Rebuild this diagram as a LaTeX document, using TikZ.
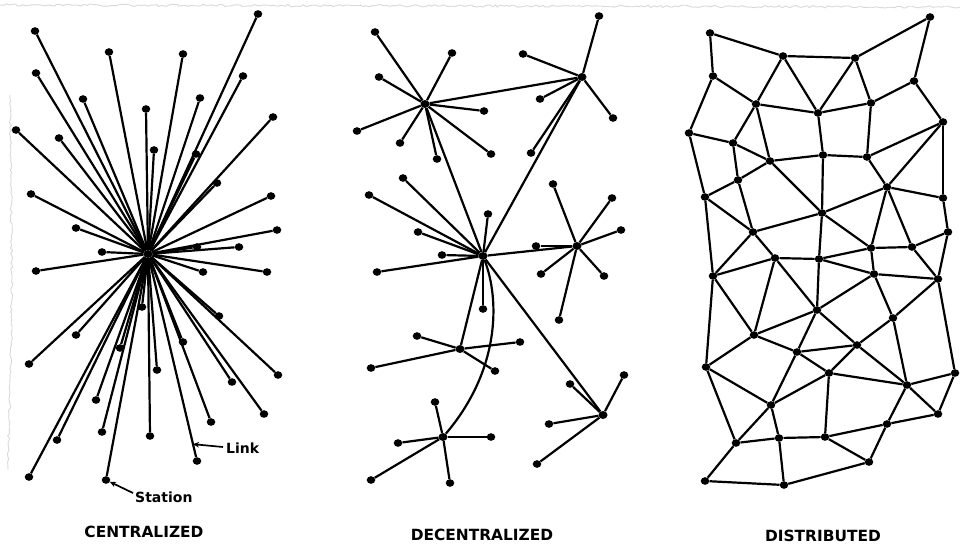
\documentclass[tikz,border=0pt]{standalone}
\usepackage{fontspec}
\newfontfamily\lblfont{DejaVu Sans}
\usetikzlibrary{arrows.meta,decorations.pathmorphing,shapes.geometric}
\begin{document}
\begin{tikzpicture}[x=1pt,y=-1pt,
  dot/.style={ellipse,fill=black,inner sep=0pt,minimum width=8.6pt,minimum height=7.6pt},
  hubdot/.style={ellipse,fill=black,inner sep=0pt,minimum width=9pt,minimum height=8pt},
  link/.style={line width=2.2pt,black},
  ttl/.style={font=\lblfont\bfseries\fontsize{15.4}{16}\selectfont,inner sep=0pt},
  lbl/.style={font=\lblfont\bfseries\fontsize{14}{15}\selectfont,anchor=west,inner sep=0pt},
  pointer/.style={line width=1.7pt,-{Stealth[length=6pt,width=5.5pt]}},
  paperedge/.style={draw=gray!30,line width=0.9pt,decorate,decoration={random steps,segment length=3pt,amplitude=1.2pt}}]
\useasboundingbox (0,0) rectangle (960,549);
\fill[white] (0,0) rectangle (960,549);
% torn paper edges
\draw[paperedge] (0,5) -- (960,7);
\draw[paperedge] (10,95) -- (12,300) -- (8,470);

% ---------------- CENTRALIZED ----------------
\node[hubdot] (ch) at (148,254) {};
\foreach \x/\y [count=\i] in {35/31,109/52,183/54,258/14,36/73,243/76,83/99,200/98,146/109,16/130,
  59/138,154/150,196/154,273/117,217/183,31/194,271/196,76/228,277/230,197/247,
  239/247,102/252,36/271,203/272,267/272,142/307,219/316,76/335,120/348,183/342,
  29/364,157/370,278/375,232/382,96/400,264/414,211/422,102/432,150/436,57/440,
  197/461,29/477,106/480}{
  \node[dot] (c\i) at (\x,\y) {};
  \draw[link] (ch) -- (c\i);
}
\path (ch) -- (c41) coordinate[pos=0.935] (linkpt);
\node[lbl] (linklbl) at (226,448) {Link};
\coordinate (linkstart) at (223,447);
\draw[pointer] (linkstart) -- (linkpt);
\node[lbl] (stationlbl) at (135,497) {Station};
\coordinate (stationstart) at (133,493);
\draw[pointer] (stationstart) -- (c43);
\node[ttl] (t1) at (144,532) {CENTRALIZED};

% ---------------- DECENTRALIZED ----------------
\node[hubdot] (ha) at (425,104) {};
\node[hubdot] (hb) at (582,77) {};
\node[hubdot] (hc) at (483,256) {};
\node[hubdot] (hd) at (577,246) {};
\node[hubdot] (he) at (460,349) {};
\node[hubdot] (hf) at (443,437) {};
\node[hubdot] (hg) at (603,415) {};
\draw[link] (ha) -- (hb);
\draw[link] (ha) -- (hc);
\draw[link] (hb) -- (hc);
\draw[link] (hc) -- (hd);
\draw[link] (hc) -- (he);
\draw[link] (hc) -- (hg);
\draw[link] (hc) .. controls (500,300) and (500,370) .. (hf);
\foreach \x/\y [count=\i] in {375/32,452/53,379/77,484/111,357/131,400/143,437/159,491/154}{
  \node[dot] (a\i) at (\x,\y) {}; \draw[link] (ha) -- (a\i);}
\foreach \x/\y [count=\i] in {599/16,523/54,540/99,613/118,531/153}{
  \node[dot] (b\i) at (\x,\y) {}; \draw[link] (hb) -- (b\i);}
\foreach \x/\y [count=\i] in {403/178,369/195,488/214,418/232,442/255,377/272,483/309}{
  \node[dot] (cc\i) at (\x,\y) {}; \draw[link] (hc) -- (cc\i);}
\foreach \x/\y [count=\i] in {553/184,612/198,621/230,536/246,541/274,604/276,559/320}{
  \node[dot] (dd\i) at (\x,\y) {}; \draw[link] (hd) -- (dd\i);}
\foreach \x/\y [count=\i] in {417/336,520/342,371/368,495/371}{
  \node[dot] (e\i) at (\x,\y) {}; \draw[link] (he) -- (e\i);}
\foreach \x/\y [count=\i] in {435/402,491/437,398/443,371/480,450/483}{
  \node[dot] (f\i) at (\x,\y) {}; \draw[link] (hf) -- (f\i);}
\foreach \x/\y [count=\i] in {624/375,570/384,549/424,537/464}{
  \node[dot] (g\i) at (\x,\y) {}; \draw[link] (hg) -- (g\i);}
\node[ttl] (t2) at (482,535) {DECENTRALIZED};

% ---------------- DISTRIBUTED ----------------
\foreach \x/\y [count=\i] in {710/33,783/56,855/58,930/17,713/76,914/81,756/104,818/113,871/103,943/122,
  689/133,733/143,770/161,823/155,867/157,738/180,887/187,705/197,943/198,822/213,
  753/232,948/232,871/248,912/247,775/258,819/259,713/276,874/274,938/279,817/310,
  893/318,754/335,857/345,797/352,706/367,829/373,955/373,907/385,771/405,938/414,
  887/424,736/443,779/438,825/437,869/462,705/481,784/485}{
  \node[dot] (d\i) at (\x,\y) {};
}
\foreach \a/\b in {1/2,1/5,2/3,3/4,4/6,2/7,2/8,3/8,3/9,5/7,5/11,6/9,6/10,7/8,8/9,7/12,7/13,8/14,9/15,
  11/12,11/18,12/13,12/16,13/14,14/15,15/10,10/17,10/19,15/17,17/19,13/16,16/18,
  16/21,18/21,13/20,14/20,17/20,20/21,20/23,17/23,17/24,19/22,22/24,22/29,21/25,21/27,
  18/27,25/26,26/23,23/24,24/29,20/26,26/28,23/28,28/29,27/25,25/32,25/30,26/30,28/30,
  28/31,29/31,29/37,27/32,27/35,30/32,30/34,30/33,31/33,32/35,32/34,34/33,33/36,34/36,
  34/39,36/39,35/39,35/42,39/42,39/43,42/43,43/44,36/44,36/38,38/37,38/41,38/40,37/40,
  41/40,44/41,44/45,41/45,42/46,43/47,46/47,47/45,33/38,31/38}{
  \draw[link] (d\a) -- (d\b);
}
\node[ttl] (t3) at (823,536) {DISTRIBUTED};
\end{tikzpicture}
\end{document}
